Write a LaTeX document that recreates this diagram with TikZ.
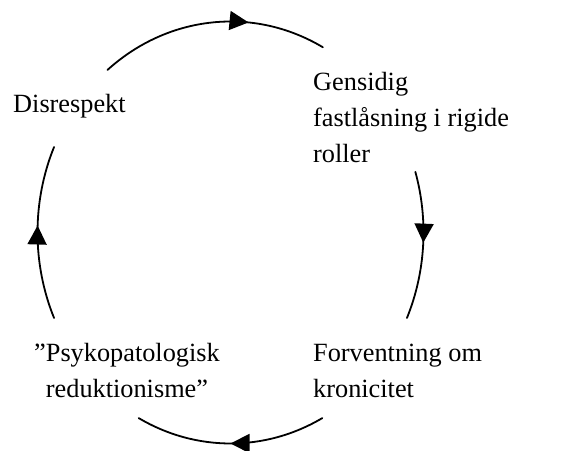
\documentclass[tikz,border=0pt]{standalone}
\usepackage{fontspec}
\setmainfont{Liberation Serif}
\usetikzlibrary{arrows.meta,decorations.markings}

\tikzset{
  lbl/.style={font=\fontsize{26.3}{36}\selectfont,inner sep=0pt,align=left},
  cyc/.style={line width=1.8pt,postaction={decorate},
    decoration={markings,mark=at position #1 with {\arrow{Triangle[length=19pt,width=19pt]}}}},
}

\begin{document}
\begin{tikzpicture}[line cap=round,line join=round,x=1pt,y=1pt]
    \useasboundingbox (0,0) rectangle (588,450);
    \coordinate (o) at (230.5,217.5);
    % the four stations of the circle
    \node[lbl,anchor=base west] (dis) at (13,337) {Disrespekt};
    \node[lbl,anchor=base west] (gen) at (313,287) {Gensidig\\fastlåsning i rigide\\roller};
    \node[lbl,anchor=base west] (forv) at (313,53) {Forventning om\\kronicitet};
    \node[lbl,align=center,anchor=base] (psy) at (127,53) {”Psykopatologisk\\reduktionisme”};
    % arcs between them
    \draw[cyc=0.66] ([shift={(129.6:193 and 211)}]o) arc[start angle=129.6,end angle=61.4,x radius=193,y radius=211];
    \draw[cyc=0.48] ([shift={(16.7:193 and 211)}]o) arc[start angle=16.7,end angle=-23.9,x radius=193,y radius=211];
    \draw[cyc=0.5] ([shift={(-61.6:193 and 211)}]o) arc[start angle=-61.6,end angle=-118.4,x radius=193,y radius=211];
    \draw[cyc=0.54] ([shift={(203.9:193 and 211)}]o) arc[start angle=203.9,end angle=156.1,x radius=193,y radius=211];
\end{tikzpicture}
\end{document}
